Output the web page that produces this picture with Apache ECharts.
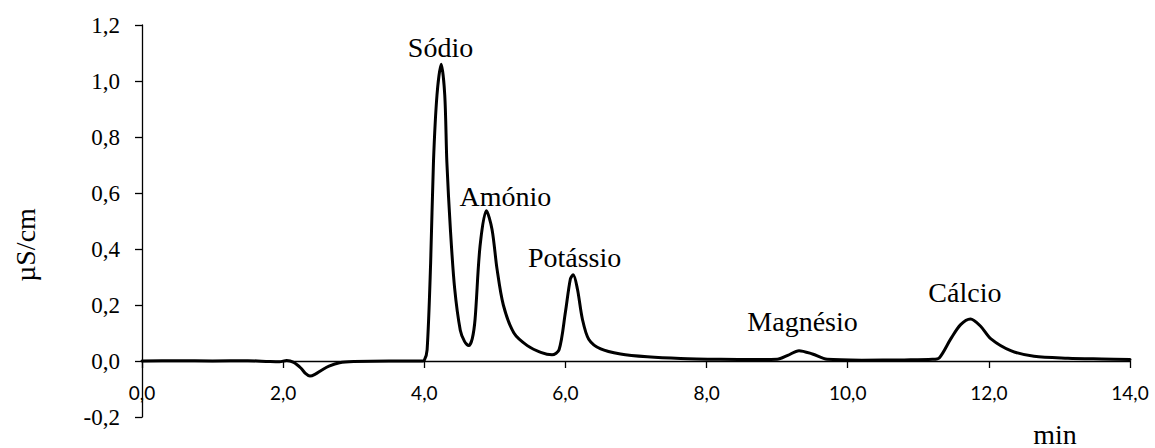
<!DOCTYPE html>
<html>
<head>
<meta charset="utf-8">
<script src="https://cdn.jsdelivr.net/npm/echarts@6/dist/echarts.min.js"></script>
<style>
  html, body { margin: 0; padding: 0; background: #fff; }
  #chart { width: 1155px; height: 448px; }
</style>
</head>
<body>
<div id="chart"></div>
<script>
// Retention time (min)
const times = [0.0, 0.5, 1.0, 1.5, 1.8, 1.95, 2.05, 2.15, 2.25, 2.32, 2.38, 2.45, 2.55, 2.65, 2.8, 3.0, 3.5, 3.95,
  4.0, 4.04, 4.09, 4.13, 4.18, 4.24, 4.29, 4.32, 4.37, 4.43, 4.51, 4.57, 4.63, 4.68, 4.72, 4.79, 4.88, 4.96, 5.03,
  5.12, 5.27, 5.46, 5.65, 5.81, 5.91, 6.00, 6.07, 6.11, 6.17, 6.24, 6.33, 6.50, 6.78, 7.16, 7.63, 8.2, 8.7, 9.0,
  9.15, 9.31, 9.5, 9.71, 10.2, 10.8, 11.2, 11.3, 11.46, 11.6, 11.74, 11.88, 12.03, 12.31, 12.64, 13.12, 13.6, 14.0];
// Conductivity (µS/cm)
const signal = [0.0, 0.001, 0.0, 0.001, -0.002, -0.003, 0.002, -0.005, -0.025, -0.045, -0.054, -0.048, -0.032, -0.018, -0.006, -0.002, 0.0, 0.0,
  0.003, 0.04, 0.35, 0.71, 0.95, 1.06, 0.95, 0.71, 0.47, 0.26, 0.11, 0.07, 0.055, 0.08, 0.15, 0.41, 0.537, 0.47, 0.33,
  0.2, 0.10, 0.055, 0.031, 0.022, 0.04, 0.175, 0.293, 0.308, 0.257, 0.15, 0.078, 0.043, 0.025, 0.015, 0.009, 0.006, 0.005, 0.006,
  0.02, 0.037, 0.025, 0.006, 0.003, 0.004, 0.006, 0.012, 0.079, 0.13, 0.15, 0.125, 0.079, 0.037, 0.017, 0.01, 0.007, 0.005];

// Peak annotations: names and where their labels sit (data coords)
const peakNames = ['Sódio', 'Amónio', 'Potássio', 'Magnésio', 'Cálcio'];
const peakLabelX = [4.23, 5.15, 6.13, 9.36, 11.66];
const peakLabelY = [1.121, 0.588, 0.371, 0.141, 0.246];

const xTickLabels = ['0,0', '2,0', '4,0', '6,0', '8,0', '10,0', '12,0', '14,0'];
const yTickLabels = ['-0,2', '0,0', '0,2', '0,4', '0,6', '0,8', '1,0', '1,2'];

const xName = 'min';
const yName = 'µS/cm';

const lineData = times.map((t, i) => [t, signal[i]]);
const labelData = peakNames.map((n, i) => ({ name: n, value: [peakLabelX[i], peakLabelY[i]] }));

const chart = echarts.init(document.getElementById('chart'), null, { renderer: 'svg' });
chart.setOption({
  animation: false,
  backgroundColor: '#ffffff',
  grid: { left: 142, right: 25, top: 25, bottom: 31, containLabel: false, outerBoundsMode: 'none' },
  xAxis: {
    type: 'value', min: 0, max: 14, interval: 2,
    position: 'bottom',
    offset: -56,
    splitLine: { show: false },
    axisLine: { onZero: false, lineStyle: { color: '#000', width: 1.3 } },
    axisTick: { inside: false, length: 7, lineStyle: { color: '#000', width: 1.3 } },
    axisLabel: {
      margin: 22, color: '#000', fontFamily: 'Lato', fontSize: 19,
      formatter: (v) => xTickLabels[Math.round(v / 2)]
    }
  },
  yAxis: {
    type: 'value', min: -0.2, max: 1.2, interval: 0.2,
    splitLine: { show: false },
    axisLine: { show: true, onZero: false, lineStyle: { color: '#000', width: 1.3 } },
    axisTick: { show: true, inside: false, length: 7, lineStyle: { color: '#000', width: 1.3 } },
    axisLabel: {
      margin: 22, color: '#000', fontFamily: 'Liberation Serif', fontSize: 23,
      formatter: (v) => yTickLabels[Math.round((v + 0.2) / 0.2)]
    }
  },
  graphic: [
    { type: 'text', x: 25, y: 245, rotation: Math.PI / 2, silent: true,
      style: { text: yName, font: '28px "Liberation Serif"', fill: '#000', textAlign: 'center', textVerticalAlign: 'middle' } },
    { type: 'text', x: 1055, y: 434, silent: true,
      style: { text: xName, font: '28px "Liberation Serif"', fill: '#000', textAlign: 'center', textVerticalAlign: 'middle' } }
  ],
  series: [
    {
      type: 'line', data: lineData, smooth: 0.3, showSymbol: false, symbol: 'none',
      lineStyle: { color: '#000', width: 3, join: 'round', cap: 'round' },
      z: 3
    },
    {
      type: 'scatter', data: labelData, symbolSize: 1,
      itemStyle: { color: 'rgba(0,0,0,0)' },
      label: {
        show: true, position: 'inside', formatter: '{b}',
        color: '#000', textBorderWidth: 0, opacity: 1,
        fontFamily: 'Liberation Serif', fontSize: 28
      },
      labelLayout: { hideOverlap: false },
      z: 4
    }
  ]
});
</script>
</body>
</html>
